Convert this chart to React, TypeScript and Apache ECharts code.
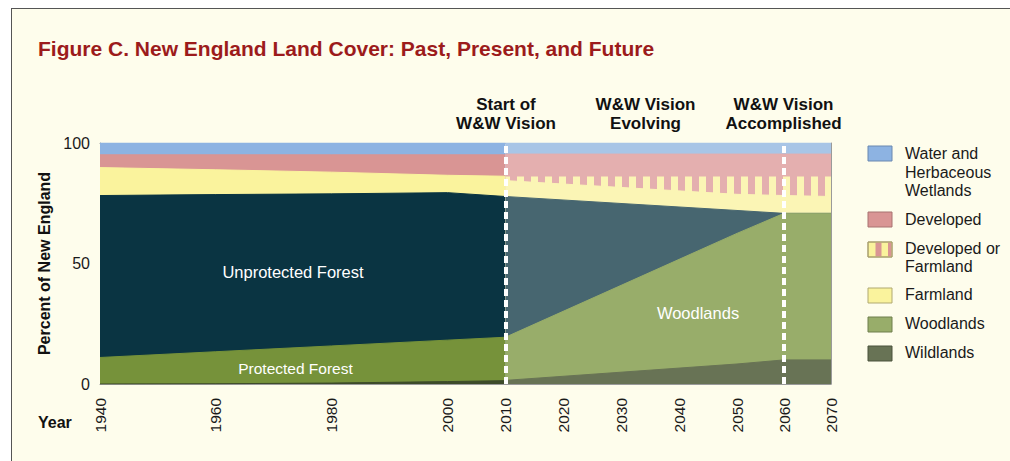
import React, { useEffect, useRef } from "react";
import * as echarts from "echarts";

const FONT = "'Liberation Sans', Arial, Helvetica, sans-serif";

// ---------- data (percent of New England, thickness of each layer, bottom to top) ----------
const yearTicks = [1940, 1960, 1980, 2000, 2010, 2020, 2030, 2040, 2050, 2060, 2070];

const pastYears = [1940, 1960, 1980, 2000, 2010];
const pastWildlands = [0, 0.1, 0.4, 1.0, 1.4];
const pastProtectedForest = [11.0, 13.3, 15.4, 17.2, 18.0];
const pastUnprotectedForest = [67.2, 65.2, 63.1, 61.2, 58.4];
const pastFarmland = [11.6, 10.3, 9.0, 7.2, 8.4];
const pastDeveloped = [5.3, 6.2, 7.2, 8.5, 8.9];
const pastWater = [4.9, 4.9, 4.9, 4.9, 4.9];

const futureYears = [2010, 2050, 2060, 2070];
const futureWildlands = [1.5, 8.3, 10.0, 10.0];
const futureWoodlands = [17.9, 54.2, 60.8, 60.8];
const futureUnprotectedForest = [58.4, 9.5, 0, 0];
const futureFarmland = [6.6, 6.7, 7.4, 7.0];
const futureDevelopedOrFarmland = [1.7, 7.4, 7.9, 8.3];
const futureDeveloped = [9.3, 9.3, 9.3, 9.3];
const futureWater = [4.6, 4.6, 4.6, 4.6];

const visionMarks = [2010, 2060];
const axisBreakYear = 2050;

// ---------- colours ----------
const C = {
  water: "#8db3e2",
  developed: "#d99594",
  farmland: "#faf39d",
  unprotected: "#0a3442",
  protected: "#76923a",
  wild: "#3d4b2a",
  fWater: "#a8c5e6",
  fDeveloped: "#e4afaf",
  fFarmland: "#fbf5b5",
  fUnprotected: "#476670",
  fWoodlands: "#98ad6a",
  fWild: "#687355",
};

type Layer = { name: string; vals: number[]; color: any; line: string | null };

export default function App() {
  const ref = useRef<HTMLDivElement>(null);

  useEffect(() => {
    document.body.style.margin = "0";
    const chart = echarts.init(ref.current!, null, { renderer: "svg" });

    const cv = document.createElement("canvas");
    cv.width = 14;
    cv.height = 14;
    const ctx = cv.getContext("2d")!;
    ctx.fillStyle = C.fFarmland;
    ctx.fillRect(0, 0, 14, 14);
    ctx.fillStyle = C.fDeveloped;
    ctx.fillRect(6, 0, 7, 14);
    const stripes: any = { image: cv, repeat: "repeat", imageWidth: 14, imageHeight: 14 };

    const pastLayers: Layer[] = [
      { name: "Wildlands", vals: pastWildlands, color: C.wild, line: C.wild },
      { name: "Protected Forest", vals: pastProtectedForest, color: C.protected, line: C.protected },
      { name: "Unprotected Forest", vals: pastUnprotectedForest, color: C.unprotected, line: C.unprotected },
      { name: "Farmland", vals: pastFarmland, color: C.farmland, line: C.farmland },
      { name: "Developed", vals: pastDeveloped, color: C.developed, line: C.developed },
      { name: "Water and Herbaceous Wetlands", vals: pastWater, color: C.water, line: C.water },
    ];
    const futureLayers: Layer[] = [
      { name: "Wildlands", vals: futureWildlands, color: C.fWild, line: C.fWild },
      { name: "Woodlands", vals: futureWoodlands, color: C.fWoodlands, line: C.fWoodlands },
      { name: "Unprotected Forest", vals: futureUnprotectedForest, color: C.fUnprotected, line: C.fUnprotected },
      { name: "Farmland", vals: futureFarmland, color: C.fFarmland, line: C.fFarmland },
      { name: "Developed or Farmland", vals: futureDevelopedOrFarmland, color: stripes, line: null },
      { name: "Developed", vals: futureDeveloped, color: C.fDeveloped, line: C.fDeveloped },
      { name: "Water and Herbaceous Wetlands", vals: futureWater, color: C.fWater, line: C.fWater },
    ];

    const markLine = (x: number) => ({
      silent: true,
      symbol: ["none", "none"],
      label: { show: false },
      lineStyle: { color: "#ffffff", width: 4, type: [7, 4], opacity: 1 },
      emphasis: { disabled: true },
      data: [{ xAxis: x }],
      z: 10,
    });

    // Cumulative tops, drawn top layer first so lower layers paint over (same as a stacked area).
    const build = (
      layers: Layer[],
      years: number[],
      g: number,
      keep: (y: number) => boolean,
      mark: number | null
    ) => {
      const out: any[] = [];
      const cum = years.map(() => 0);
      const tops = layers.map((l) => l.vals.map((v, k) => (cum[k] += v)));
      for (let i = layers.length - 1; i >= 0; i--) {
        const l = layers[i];
        const data = years.map((y, k) => [y, +tops[i][k].toFixed(3)]).filter((d) => keep(d[0]));
        out.push({
          name: l.name,
          type: "line",
          xAxisIndex: g,
          yAxisIndex: g,
          data,
          symbol: "none",
          showSymbol: false,
          silent: true,
          emphasis: { disabled: true },
          lineStyle: l.line ? { width: 1, color: l.line } : { width: 0, opacity: 0 },
          itemStyle: { color: l.line || C.fDeveloped },
          areaStyle: { color: l.color, opacity: 1, origin: "start" },
          ...(mark !== null && i === 0 ? { markLine: markLine(mark) } : {}),
        });
      }
      return out;
    };

    const series: any[] = [
      ...build(pastLayers, pastYears, 0, () => true, null),
      ...build(futureLayers, futureYears, 0, (y) => y <= axisBreakYear, visionMarks[0]),
      ...build(futureLayers, futureYears, 1, (y) => y >= axisBreakYear, visionMarks[1]),
    ];

    const BORDER = "#9a9a9a";
    const xLabel = (vals: number[]) => ({
      customValues: vals,
      rotate: 90,
      margin: 14,
      fontSize: 15.5,
      color: "#1a1a1a",
      fontFamily: FONT,
      formatter: (v: number) => String(v),
    });
    const frameX = (g: number, min: number, max: number, pos: string, labels: number[] | null) => ({
      gridIndex: g,
      type: "value",
      min,
      max,
      position: pos,
      axisLine: { show: true, onZero: false, lineStyle: { color: BORDER, width: 1 } },
      axisTick: { show: false },
      splitLine: { show: false },
      axisLabel: labels ? xLabel(labels) : { show: false },
    });

    const T = (text: string, x: number, y: number, o: any = {}) => ({
      type: "text",
      x,
      y,
      z: 100,
      silent: true,
      style: {
        text,
        fill: "#1a1a1a",
        fontSize: 16,
        fontFamily: FONT,
        verticalAlign: "middle",
        align: "left",
        ...o,
      },
    });
    const R = (x: number, y: number, fill: string, stroke: string, w = 24, h = 15) => ({
      type: "rect",
      z: 100,
      silent: true,
      shape: { x, y, width: w, height: h },
      style: { fill, stroke, lineWidth: 1 },
    });

    const LX = 868;
    const TX = 905;
    const graphic: any[] = [
      T("Figure C. New England Land Cover: Past, Present, and Future", 38, 48, {
        fill: "#9c1b1b",
        fontSize: 21,
        fontWeight: "bold",
      }),
      T("Start of\nW&W Vision", 506, 114, { align: "center", fontWeight: "bold", fontSize: 17, lineHeight: 18.5, fill: "#111" }),
      T("W&W Vision\nEvolving", 645.5, 114, { align: "center", fontWeight: "bold", fontSize: 17, lineHeight: 18.5, fill: "#111" }),
      T("W&W Vision\nAccomplished", 783.5, 114, { align: "center", fontWeight: "bold", fontSize: 17, lineHeight: 18.5, fill: "#111" }),
      T("Unprotected Forest", 293, 272, { align: "center", fill: "#ffffff", fontSize: 16.5 }),
      T("Protected Forest", 295.5, 368, { align: "center", fill: "#ffffff", fontSize: 15.5 }),
      T("Woodlands", 698, 312.5, { align: "center", fill: "#ffffff", fontSize: 16.5 }),
      T("Year", 38, 422.5, { fontWeight: "bold", fill: "#111" }),
      // legend
      R(LX, 146, C.water, "#6a88b0"),
      T("Water and\nHerbaceous\nWetlands", TX, 172, { lineHeight: 18.7 }),
      R(LX, 212, C.developed, "#a87270"),
      T("Developed", TX, 219.6),
      R(LX, 242, C.farmland, "#a89f6c"),
      R(LX + 7.5, 242.5, C.developed, "none", 6, 14),
      R(LX + 20, 242.5, C.developed, "none", 3.5, 14),
      R(LX, 242, "none", "#a89f6c"),
      T("Developed or\nFarmland", TX, 257.5, { lineHeight: 18.3 }),
      R(LX, 288, C.farmland, "#b0a970"),
      T("Farmland", TX, 294.3),
      R(LX, 317, C.fWoodlands, "#6f7f4c"),
      T("Woodlands", TX, 323.3),
      R(LX, 346, C.fWild, "#4b533d"),
      T("Wildlands", TX, 352),
    ];

    const option: any = {
      animation: false,
      backgroundColor: "transparent",
      textStyle: { fontFamily: FONT },
      grid: [
        { left: 100, top: 143, width: 637, height: 241 },
        { left: 737, top: 143, width: 94, height: 241 },
      ],
      xAxis: [
        frameX(0, 1940, axisBreakYear, "bottom", yearTicks.filter((y) => y <= axisBreakYear)),
        frameX(1, axisBreakYear, 2070, "bottom", yearTicks.filter((y) => y > axisBreakYear)),
        frameX(0, 1940, axisBreakYear, "top", null),
        frameX(1, axisBreakYear, 2070, "top", null),
      ],
      yAxis: [
        {
          gridIndex: 0,
          type: "value",
          min: 0,
          max: 100,
          interval: 50,
          axisLine: { show: true, lineStyle: { color: BORDER, width: 1 } },
          axisTick: { show: false },
          splitLine: { show: false },
          axisLabel: { fontSize: 16, margin: 10, color: "#1a1a1a", fontFamily: FONT },
          name: "Percent of New England",
          nameLocation: "middle",
          nameGap: 41,
          nameTextStyle: { fontSize: 16, fontWeight: "bold", color: "#111", fontFamily: FONT },
        },
        {
          gridIndex: 1,
          type: "value",
          min: 0,
          max: 100,
          position: "right",
          axisLine: { show: true, lineStyle: { color: BORDER, width: 1 } },
          axisTick: { show: false },
          splitLine: { show: false },
          axisLabel: { show: false },
        },
      ],
      series,
      graphic,
    };

    chart.setOption(option);
    return () => chart.dispose();
  }, []);

  return (
    <div style={{ position: "relative", width: 1010, height: 461, background: "#ffffff", overflow: "hidden" }}>
      <div
        style={{
          position: "absolute",
          left: 11,
          top: 8,
          width: 1010,
          height: 470,
          background: "#fefdec",
          borderLeft: "1.5px solid #555",
          borderTop: "1.5px solid #555",
        }}
      />
      <div ref={ref} style={{ position: "absolute", left: 0, top: 0, width: 1010, height: 461 }} />
    </div>
  );
}
